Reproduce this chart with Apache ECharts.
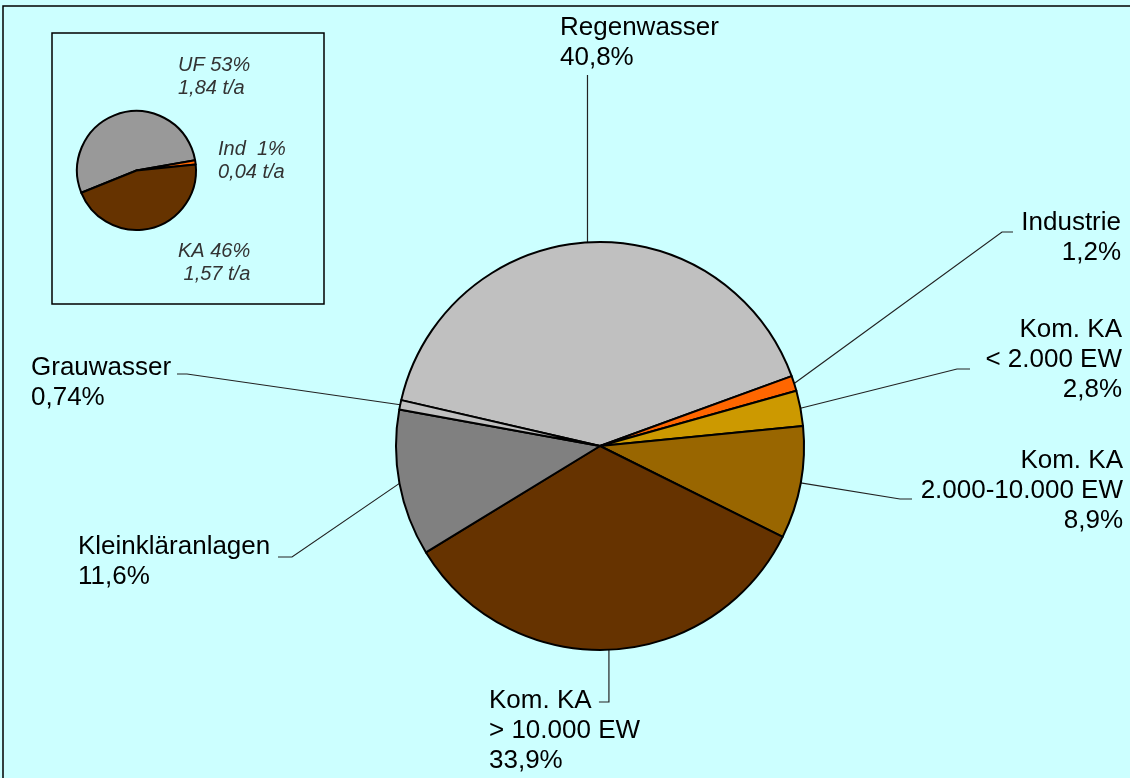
<!DOCTYPE html>
<html>
<head>
<meta charset="utf-8">
<script src="https://cdn.jsdelivr.net/npm/echarts@6/dist/echarts.min.js"></script>
<style>
  html, body { margin: 0; padding: 0; background: #ccffff; }
  #main { width: 1130px; height: 778px; }
</style>
</head>
<body>
<div id="main"></div>
<script>
// Hauptdiagramm: Anteile der Eintragspfade (%)
const pathNames = ['Regenwasser', 'Industrie', 'Kom. KA\n< 2.000 EW', 'Kom. KA\n2.000-10.000 EW',
  'Kom. KA\n> 10.000 EW', 'Kleinkläranlagen', 'Grauwasser'];
const pathShares = [40.8, 1.2, 2.8, 8.9, 33.9, 11.6, 0.74];
const pathColors = ['#c0c0c0', '#ff6600', '#cc9900', '#996600', '#663300', '#808080', '#c0c0c0'];

// kleines Diagramm: Frachten (t/a)
const insetNames = ['UF', 'Ind ', 'KA'];
const insetLoads = [1.84, 0.04, 1.57];
const insetColors = ['#999999', '#ff6600', '#663300'];

const comma = (v) => String(v).replace('.', ',');

// Lage der Textbloecke + Fuehrungslinie (Knick, Ende)
const mainLabelPos = [
  { x: 560, y: 13, align: 'left', line: p => [[p[0], 75], [p[0], 75]] },
  { x: 1121, y: 208, align: 'right', line: p => [[1002, 232], [1013, 232]] },
  { x: 1122, y: 315, align: 'right', line: p => [[957, 369], [970, 369]] },
  { x: 1123, y: 446, align: 'right', line: p => [[900, 499], [912, 499]] },
  { x: 489, y: 686, align: 'left', line: p => [[p[0], 702], [p[0] - 10, 702]] },
  { x: 78, y: 532, align: 'left', line: p => [[292, 557], [278, 557]] },
  { x: 31, y: 353, align: 'left', line: p => [[187, 374], [177, 374]] }
];
const insetLabelPos = [
  { x: 178, y: 54 },
  { x: 218, y: 138 },
  { x: 178, y: 240 }
];

var myChart = echarts.init(document.getElementById('main'));

const option = {
  backgroundColor: '#ccffff',
  animation: false,
  graphic: [
    {
      // Rahmen (nur links und oben sichtbar)
      type: 'polyline',
      shape: { points: [[3, 800], [3, 6], [1140, 6]] },
      style: { fill: null, stroke: '#000', lineWidth: 1.5 },
      silent: true
    },
    {
      type: 'rect',
      shape: { x: 52, y: 33, width: 272, height: 271 },
      style: { fill: 'transparent', stroke: '#000', lineWidth: 1.5 },
      silent: true
    }
  ],
  series: [
    {
      name: 'Eintragspfade',
      type: 'pie',
      center: [600, 446],
      radius: [0, 204],
      startAngle: 167,
      clockwise: true,
      avoidLabelOverlap: false,
      emphasis: { disabled: true },
      itemStyle: { borderColor: '#000', borderWidth: 2 },
      label: {
        show: true,
        position: 'outside',
        fontFamily: 'Liberation Sans, Arial, sans-serif',
        fontSize: 26,
        lineHeight: 30,
        color: '#000',
        formatter: function (p) {
          return p.name + '\n' + comma(p.value) + '%';
        }
      },
      labelLine: {
        show: true,
        lineStyle: { color: '#222', width: 1.2 }
      },
      labelLayout: function (params) {
        const pos = mainLabelPos[params.dataIndex];
        const res = { x: pos.x, y: pos.y, align: pos.align, verticalAlign: 'top' };
        if (params.labelLinePoints) {
          const p0 = params.labelLinePoints[0];
          res.labelLinePoints = [p0].concat(pos.line(p0));
        }
        return res;
      },
      data: pathNames.map((n, i) => ({
        name: n,
        value: pathShares[i],
        itemStyle: { color: pathColors[i] }
      }))
    },
    {
      name: 'Fracht',
      type: 'pie',
      center: [136.5, 170.5],
      radius: [0, 59.5],
      startAngle: 202,
      clockwise: true,
      avoidLabelOverlap: false,
      emphasis: { disabled: true },
      itemStyle: { borderColor: '#000', borderWidth: 2 },
      label: {
        show: true,
        position: 'outside',
        fontFamily: 'Liberation Sans, Arial, sans-serif',
        fontStyle: 'italic',
        fontSize: 20,
        lineHeight: 23,
        color: '#333',
        formatter: function (p) {
          const pad = p.dataIndex === 2 ? ' ' : '';
          return p.name + ' ' + Math.round(p.percent) + '%\n' + pad + comma(p.value.toFixed(2)) + ' t/a';
        }
      },
      labelLine: { show: false },
      labelLayout: function (params) {
        const pos = insetLabelPos[params.dataIndex];
        return { x: pos.x, y: pos.y, align: 'left', verticalAlign: 'top' };
      },
      data: insetNames.map((n, i) => ({
        name: n,
        value: insetLoads[i],
        itemStyle: { color: insetColors[i] }
      }))
    }
  ]
};

myChart.setOption(option);
</script>
</body>
</html>
